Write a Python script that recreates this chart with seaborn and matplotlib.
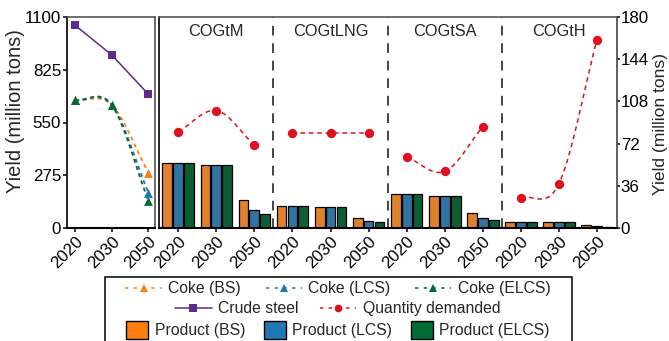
import numpy as np
import pandas as pd
import matplotlib
matplotlib.use("Agg")
import matplotlib.pyplot as plt
from matplotlib.lines import Line2D
from matplotlib.patches import Patch, Rectangle
import seaborn as sns

# ---- data -------------------------------------------------------------
years = ["2020", "2030", "2050"]
scenarios = ["BS", "LCS", "ELCS"]
routes = ["COGtM", "COGtLNG", "COGtSA", "COGtH"]

crude_steel = [1057, 902, 697]
coke_bs = [667, 641, 288]
coke_lcs = [667, 641, 184]
coke_elcs = [667, 641, 141]

product_bs = [55.4, 53.4, 23.9, 19.0, 18.1, 8.5, 28.6, 27.5, 12.4, 5.4, 4.9, 2.8]
product_lcs = [55.4, 53.4, 15.4, 19.0, 18.1, 6.2, 28.6, 27.5, 8.5, 5.4, 4.9, 1.9]
product_elcs = [55.4, 53.4, 11.9, 19.0, 18.1, 4.8, 28.6, 27.5, 6.5, 5.4, 4.9, 1.2]
demand = [82.0, 100.2, 70.7, 81.0, 81.0, 81.0, 60.7, 48.2, 86.3, 25.5, 37.7, 160.4]

# ---- style ------------------------------------------------------------
sns.set_style("ticks")
plt.rcParams["font.family"] = ["Liberation Sans", "DejaVu Sans"]
plt.rcParams["axes.linewidth"] = 1.2

ORANGE = "#ff7f0e"
BLUE = "#1f77b4"
GREEN = "#006b35"
RED = "#e0101e"
PURPLE = "#5d2a8e"
scen_colors = {"BS": ORANGE, "LCS": BLUE, "ELCS": GREEN}

TICK_FS = 12.2

W, H = 669, 341


def smooth(xs, ys, n=50):
    """Cubic Hermite curve through the points (finite-difference tangents)."""
    xs = np.asarray(xs, float)
    ys = np.asarray(ys, float)
    m = np.gradient(ys, xs)
    px, py = [], []
    for i in range(len(xs) - 1):
        h = xs[i + 1] - xs[i]
        t = np.linspace(0, 1, n)
        h00 = 2 * t**3 - 3 * t**2 + 1
        h10 = t**3 - 2 * t**2 + t
        h01 = -2 * t**3 + 3 * t**2
        h11 = t**3 - t**2
        px.append(xs[i] + t * h)
        py.append(h00 * ys[i] + h10 * h * m[i] + h01 * ys[i + 1] + h11 * h * m[i + 1])
    return np.concatenate(px), np.concatenate(py)


fig = plt.figure(figsize=(W / 100, H / 100), dpi=100)
top, bottom = 1 - 17 / H, 1 - 228 / H
axL = fig.add_axes([66.7 / W, bottom, (155 - 66.7) / W, top - bottom])
axR = fig.add_axes([158.5 / W, bottom, (616.7 - 158.5) / W, top - bottom])

# ---- left panel: crude steel and coke --------------------------------
xpos = np.arange(len(years))
steel_df = pd.DataFrame({"x": xpos, "y": crude_steel})
sns.lineplot(data=steel_df, x="x", y="y", color=PURPLE, lw=1.1, marker="s",
             markersize=6, markeredgewidth=0, ax=axL)

for name, vals in [("BS", coke_bs), ("LCS", coke_lcs), ("ELCS", coke_elcs)]:
    sx, sy = smooth(xpos, vals)
    axL.plot(sx, sy, color=scen_colors[name], lw=1.3, dashes=(2.2, 2.0))
for name, vals in [("BS", coke_bs), ("LCS", coke_lcs), ("ELCS", coke_elcs)]:
    sns.scatterplot(x=xpos, y=vals, color=scen_colors[name], marker="^", s=40,
                    linewidth=0, ax=axL, zorder=5)

axL.set_xlim(-0.23, 2.18)
axL.set_ylim(0, 1100)
axL.set_yticks([0, 275, 550, 825, 1100])
axL.set_xticks(xpos)
axL.set_xticklabels(years, rotation=45, ha="right", rotation_mode="anchor")
axL.set_xlabel("")
axL.set_ylabel("Yield (million tons)", fontsize=14.5)
axL.yaxis.set_label_coords((25 - 66.7) / (155 - 66.7), (228 - 111.5) / 211)
axL.tick_params(labelsize=TICK_FS, length=3.2, width=1.1, pad=0.8, colors="black")

# ---- right panel: products by route ----------------------------------
keys = [f"{r}-{y}" for r in routes for y in years]
bars = pd.DataFrame({
    "pos": keys * 3,
    "scenario": np.repeat(scenarios, len(keys)),
    "value": product_bs + product_lcs + product_elcs,
})
sns.barplot(data=bars, x="pos", y="value", hue="scenario", order=keys,
            hue_order=scenarios, palette=scen_colors, width=0.86, gap=0.1,
            edgecolor="black", linewidth=0.9, legend=False, ax=axR)

for g in range(len(routes)):
    gx = np.arange(3) + 3 * g
    gy = demand[3 * g:3 * g + 3]
    sx, sy = smooth(gx, gy)
    axR.plot(sx, sy, color=RED, lw=1.1, dashes=(3, 2.5), zorder=4)
    sns.scatterplot(x=gx, y=gy, color=RED, s=45, linewidth=0, ax=axR, zorder=5)
    axR.text(3 * g + 1, 0.93, routes[g], transform=axR.get_xaxis_transform(),
             ha="center", va="center", fontsize=11.8)

for b in [2.5, 5.5, 8.5]:
    axR.axvline(b, color="#444444", lw=1.4, dashes=(5, 4), zorder=1)

axR.set_xlim(-0.52, 11.52)
axR.set_ylim(0, 180)
axR.set_yticks(np.arange(0, 181, 36))
axR.yaxis.tick_right()
axR.yaxis.set_label_position("right")
axR.set_xticks(np.arange(len(keys)))
axR.set_xticklabels(years * len(routes), rotation=45, ha="right",
                    rotation_mode="anchor")
axR.set_xlabel("")
axR.set_ylabel("Yield (million tons)", fontsize=12.6)
axR.yaxis.set_label_coords((653 - 158.5) / (616.7 - 158.5), (228 - 124) / 211)
axR.tick_params(labelsize=TICK_FS, length=3.2, width=1.1, pad=0.8, colors="black")
axR.tick_params(axis="y", length=2.2)

for ax in (axL, axR):
    for side in ("top", "right"):
        ax.spines[side].set_visible(True)
        ax.spines[side].set_color("#555555")
    ax.spines["left"].set_color("black")
    ax.spines["bottom"].set_color("black")
    ax.spines["bottom"].set_linewidth(1.5)
axR.spines["right"].set_color("#444444")

# ---- legend -----------------------------------------------------------
row1 = [Line2D([], [], color=scen_colors[s], lw=1.1, dashes=(2.2, 3.5),
               marker="^", markersize=5.5, markeredgewidth=0,
               label=f"Coke ({s})") for s in scenarios]
row2 = [Line2D([], [], color=PURPLE, lw=1.1, marker="s", markersize=5.5,
               markeredgewidth=0, label="Crude steel"),
        Line2D([], [], color=RED, lw=1.1, dashes=(2.2, 3.5), marker="o",
               markersize=5.5, markeredgewidth=0, label="Quantity demanded")]
row3 = [Patch(facecolor=scen_colors[s], edgecolor="black", lw=1.0,
              label=f"Product ({s})") for s in scenarios]

common = dict(loc="center", frameon=False, fontsize=11.3, borderpad=0,
              handletextpad=0.4)
fig.legend(handles=row1, bbox_to_anchor=(0.505, 1 - 289 / H), ncol=3,
           handlelength=2.3, columnspacing=1.6, **common)
fig.legend(handles=row2, bbox_to_anchor=(0.505, 1 - 308.5 / H), ncol=2,
           handlelength=2.3, columnspacing=1.4, **common)
fig.legend(handles=row3, bbox_to_anchor=(0.505, 1 - 330 / H), ncol=3,
           handlelength=1.4, handleheight=1.3, columnspacing=1.2, **common)
fig.add_artist(Rectangle((105 / W, -0.05), (571.7 - 105) / W,
                         (H - 277) / H + 0.05, transform=fig.transFigure,
                         fill=False, edgecolor="black", lw=1.1, clip_on=False))

fig.savefig("out.png", dpi=100)
